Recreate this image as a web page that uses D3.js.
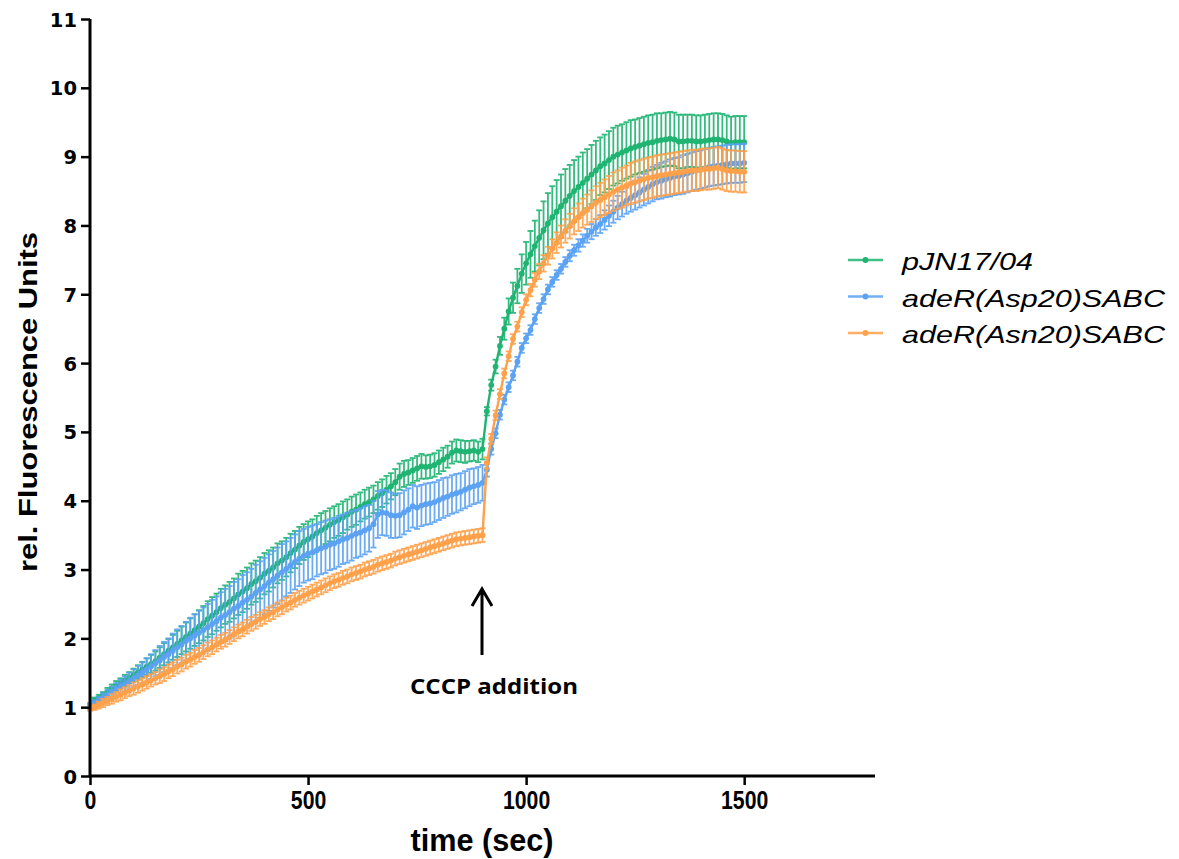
<!DOCTYPE html>
<html>
<head>
<meta charset="utf-8">
<script src="https://cdn.jsdelivr.net/npm/d3@7"></script>
<style>
  html, body { margin: 0; padding: 0; background: #fff; }
  svg { display: block; }
</style>
</head>
<body>
<svg id="chart" width="1179" height="859"></svg>
<script>
// Sampling grid: one reading every 10 s from 0 to 1500 s
const timeSec = d3.range(0, 1501, 10);

const seriesNames = ["pJN17/04", "adeR(Asp20)SABC", "adeR(Asn20)SABC"];

// pJN17/04 – mean and SD
const pjnMean = [
  1.00, 1.10, 1.13, 1.17, 1.22, 1.27, 1.31, 1.35, 1.39, 1.43,
  1.47, 1.51, 1.55, 1.59, 1.63, 1.67, 1.72, 1.77, 1.82, 1.87,
  1.92, 1.97, 2.02, 2.07, 2.12, 2.17, 2.22, 2.28, 2.33, 2.38,
  2.44, 2.49, 2.53, 2.58, 2.64, 2.68, 2.73, 2.79, 2.83, 2.88,
  2.94, 2.98, 3.03, 3.09, 3.13, 3.18, 3.24, 3.29, 3.35, 3.40,
  3.44, 3.48, 3.53, 3.57, 3.61, 3.65, 3.69, 3.72, 3.76, 3.80,
  3.84, 3.87, 3.91, 3.95, 3.98, 4.02, 4.07, 4.11, 4.16, 4.21,
  4.27, 4.35, 4.39, 4.41, 4.44, 4.47, 4.50, 4.49, 4.50, 4.52,
  4.56, 4.60, 4.64, 4.70, 4.73, 4.72, 4.71, 4.72, 4.73, 4.71,
  4.75, 5.30, 5.68, 5.95, 6.25, 6.50, 6.75, 6.95, 7.12, 7.30,
  7.45, 7.58, 7.70, 7.82, 7.93, 8.03, 8.12, 8.20, 8.28, 8.36,
  8.43, 8.50, 8.56, 8.62, 8.68, 8.74, 8.80, 8.86, 8.90, 8.95,
  9.00, 9.03, 9.06, 9.09, 9.12, 9.14, 9.16, 9.18, 9.20, 9.21,
  9.23, 9.24, 9.25, 9.26, 9.25, 9.22, 9.22, 9.23, 9.23, 9.22,
  9.22, 9.23, 9.24, 9.25, 9.25, 9.24, 9.22, 9.20, 9.21, 9.21,
  9.21
];
const pjnSd = [
  0.02, 0.04, 0.05, 0.05, 0.06, 0.06, 0.07, 0.07, 0.08, 0.08,
  0.09, 0.10, 0.11, 0.12, 0.13, 0.14, 0.15, 0.16, 0.17, 0.18,
  0.19, 0.20, 0.21, 0.22, 0.23, 0.24, 0.25, 0.26, 0.27, 0.27,
  0.28, 0.28, 0.29, 0.29, 0.30, 0.30, 0.30, 0.30, 0.30, 0.30,
  0.30, 0.30, 0.29, 0.29, 0.28, 0.28, 0.28, 0.27, 0.27, 0.26,
  0.26, 0.25, 0.25, 0.25, 0.24, 0.24, 0.23, 0.23, 0.23, 0.22,
  0.22, 0.22, 0.21, 0.21, 0.21, 0.20, 0.20, 0.20, 0.20, 0.19,
  0.19, 0.19, 0.19, 0.18, 0.18, 0.18, 0.18, 0.17, 0.17, 0.17,
  0.17, 0.17, 0.16, 0.16, 0.16, 0.16, 0.16, 0.15, 0.15, 0.15,
  0.15, 0.06, 0.08, 0.10, 0.13, 0.16, 0.19, 0.22, 0.25, 0.28,
  0.31, 0.34, 0.37, 0.40, 0.42, 0.44, 0.45, 0.46, 0.46, 0.46,
  0.45, 0.45, 0.44, 0.44, 0.43, 0.43, 0.43, 0.42, 0.42, 0.42,
  0.42, 0.42, 0.41, 0.41, 0.41, 0.40, 0.40, 0.40, 0.40, 0.40,
  0.40, 0.39, 0.39, 0.39, 0.39, 0.39, 0.39, 0.38, 0.38, 0.38,
  0.38, 0.38, 0.38, 0.38, 0.38, 0.38, 0.38, 0.38, 0.38, 0.38,
  0.38
];

// adeR(Asp20)SABC – mean and SD
const aspMean = [
  1.03, 1.06, 1.10, 1.14, 1.18, 1.22, 1.26, 1.30, 1.34, 1.38,
  1.42, 1.46, 1.50, 1.54, 1.59, 1.64, 1.68, 1.73, 1.77, 1.82,
  1.87, 1.91, 1.96, 2.00, 2.04, 2.08, 2.12, 2.16, 2.21, 2.25,
  2.30, 2.34, 2.38, 2.43, 2.47, 2.52, 2.56, 2.61, 2.66, 2.71,
  2.76, 2.81, 2.86, 2.91, 2.96, 3.01, 3.06, 3.11, 3.16, 3.20,
  3.23, 3.25, 3.28, 3.31, 3.33, 3.36, 3.38, 3.41, 3.44, 3.46,
  3.49, 3.52, 3.54, 3.57, 3.60, 3.66, 3.80, 3.83, 3.82, 3.79,
  3.78, 3.79, 3.83, 3.87, 3.92, 3.90, 3.93, 3.95, 3.96, 3.98,
  4.01, 4.04, 4.06, 4.09, 4.11, 4.13, 4.16, 4.19, 4.21, 4.23,
  4.26, 4.45, 4.75, 4.98, 5.25, 5.47, 5.65, 5.82, 6.02, 6.22,
  6.36, 6.48, 6.64, 6.80, 6.93, 7.07, 7.18, 7.28, 7.37, 7.47,
  7.56, 7.64, 7.71, 7.78, 7.85, 7.91, 7.97, 8.02, 8.08, 8.14,
  8.20, 8.26, 8.31, 8.36, 8.40, 8.44, 8.48, 8.52, 8.56, 8.60,
  8.63, 8.65, 8.67, 8.69, 8.71, 8.72, 8.74, 8.76, 8.78, 8.80,
  8.81, 8.83, 8.85, 8.86, 8.87, 8.88, 8.89, 8.90, 8.90, 8.90,
  8.91
];
const aspSd = [
  0.03, 0.04, 0.05, 0.06, 0.07, 0.08, 0.09, 0.10, 0.11, 0.12,
  0.13, 0.14, 0.15, 0.17, 0.18, 0.19, 0.21, 0.22, 0.23, 0.25,
  0.26, 0.27, 0.28, 0.30, 0.31, 0.32, 0.33, 0.34, 0.35, 0.36,
  0.37, 0.38, 0.38, 0.39, 0.39, 0.40, 0.40, 0.40, 0.41, 0.41,
  0.41, 0.41, 0.41, 0.41, 0.41, 0.40, 0.40, 0.40, 0.40, 0.39,
  0.39, 0.39, 0.38, 0.38, 0.38, 0.37, 0.37, 0.37, 0.36, 0.36,
  0.36, 0.35, 0.35, 0.35, 0.34, 0.34, 0.34, 0.33, 0.33, 0.33,
  0.32, 0.32, 0.32, 0.31, 0.31, 0.31, 0.30, 0.30, 0.30, 0.29,
  0.29, 0.29, 0.28, 0.28, 0.28, 0.27, 0.27, 0.27, 0.26, 0.26,
  0.26, 0.10, 0.08, 0.07, 0.07, 0.07, 0.07, 0.07, 0.07, 0.07,
  0.07, 0.07, 0.07, 0.07, 0.07, 0.07, 0.07, 0.07, 0.07, 0.07,
  0.08, 0.08, 0.09, 0.09, 0.10, 0.11, 0.12, 0.13, 0.14, 0.15,
  0.16, 0.17, 0.18, 0.19, 0.20, 0.21, 0.22, 0.23, 0.24, 0.25,
  0.25, 0.26, 0.26, 0.27, 0.27, 0.27, 0.28, 0.28, 0.28, 0.28,
  0.28, 0.28, 0.28, 0.28, 0.28, 0.28, 0.28, 0.28, 0.28, 0.28,
  0.28
];

// adeR(Asn20)SABC – mean and SD
const asnMean = [
  0.98, 1.00, 1.03, 1.06, 1.09, 1.12, 1.15, 1.18, 1.21, 1.24,
  1.27, 1.30, 1.33, 1.36, 1.39, 1.42, 1.45, 1.48, 1.52, 1.55,
  1.59, 1.62, 1.66, 1.69, 1.73, 1.76, 1.80, 1.84, 1.87, 1.91,
  1.95, 1.98, 2.02, 2.06, 2.10, 2.13, 2.17, 2.21, 2.24, 2.28,
  2.31, 2.35, 2.38, 2.42, 2.45, 2.49, 2.52, 2.56, 2.59, 2.62,
  2.65, 2.68, 2.71, 2.74, 2.77, 2.80, 2.83, 2.85, 2.88, 2.90,
  2.93, 2.95, 2.97, 3.00, 3.02, 3.04, 3.07, 3.09, 3.11, 3.13,
  3.16, 3.18, 3.20, 3.22, 3.24, 3.26, 3.28, 3.30, 3.32, 3.34,
  3.36, 3.38, 3.40, 3.42, 3.44, 3.45, 3.46, 3.47, 3.48, 3.49,
  3.50, 4.55, 4.90, 5.24, 5.55, 5.85, 6.10, 6.35, 6.53, 6.74,
  6.92, 7.06, 7.21, 7.33, 7.45, 7.56, 7.66, 7.75, 7.84, 7.92,
  7.99, 8.06, 8.12, 8.18, 8.23, 8.28, 8.33, 8.37, 8.41, 8.45,
  8.49, 8.52, 8.55, 8.58, 8.61, 8.63, 8.65, 8.67, 8.69, 8.70,
  8.72, 8.73, 8.74, 8.75, 8.76, 8.77, 8.78, 8.79, 8.80, 8.80,
  8.81, 8.82, 8.82, 8.83, 8.84, 8.82, 8.80, 8.79, 8.79, 8.78,
  8.78
];
const asnSd = [
  0.03, 0.04, 0.05, 0.06, 0.06, 0.07, 0.07, 0.08, 0.08, 0.08,
  0.09, 0.09, 0.09, 0.09, 0.09, 0.09, 0.10, 0.10, 0.10, 0.10,
  0.10, 0.10, 0.10, 0.10, 0.10, 0.10, 0.10, 0.10, 0.10, 0.10,
  0.10, 0.10, 0.10, 0.10, 0.10, 0.10, 0.10, 0.10, 0.10, 0.10,
  0.10, 0.10, 0.10, 0.10, 0.10, 0.10, 0.10, 0.10, 0.10, 0.10,
  0.10, 0.10, 0.10, 0.10, 0.10, 0.10, 0.10, 0.10, 0.10, 0.10,
  0.10, 0.10, 0.10, 0.10, 0.10, 0.10, 0.10, 0.10, 0.10, 0.10,
  0.10, 0.10, 0.10, 0.10, 0.10, 0.10, 0.10, 0.10, 0.10, 0.10,
  0.10, 0.10, 0.10, 0.10, 0.10, 0.10, 0.10, 0.10, 0.10, 0.10,
  0.10, 0.08, 0.07, 0.07, 0.07, 0.07, 0.07, 0.07, 0.07, 0.07,
  0.08, 0.09, 0.10, 0.11, 0.12, 0.13, 0.14, 0.15, 0.16, 0.17,
  0.18, 0.19, 0.20, 0.21, 0.22, 0.23, 0.24, 0.25, 0.26, 0.27,
  0.28, 0.28, 0.29, 0.29, 0.30, 0.30, 0.30, 0.30, 0.30, 0.30,
  0.30, 0.30, 0.30, 0.30, 0.30, 0.30, 0.30, 0.30, 0.30, 0.30,
  0.30, 0.30, 0.30, 0.30, 0.30, 0.30, 0.30, 0.30, 0.30, 0.30,
  0.30
];

const seriesColors = ["#1fb472", "#5ba2f3", "#ffa04a"];

const xTicks = [0, 500, 1000, 1500];
const yTicks = d3.range(0, 12);

const annotationTime = 900;
const annotationText = "CCCP addition";

// ---- layout ----
const svg = d3.select("#chart");
const x = d3.scaleLinear().domain([0, 1800]).range([90, 875]);
const y = d3.scaleLinear().domain([0, 11]).range([776, 19]);

const series = [
  { name: seriesNames[0], mean: pjnMean, sd: pjnSd, color: seriesColors[0] },
  { name: seriesNames[1], mean: aspMean, sd: aspSd, color: seriesColors[1] },
  { name: seriesNames[2], mean: asnMean, sd: asnSd, color: seriesColors[2] }
];

const plot = svg.append("g");

series.forEach(s => {
  const pts = timeSec.map((t, k) => ({ t, m: s.mean[k], sd: s.sd[k] }));
  const g = plot.append("g");

  const bars = g.selectAll("g.eb").data(pts).join("g")
    .attr("stroke", s.color).attr("stroke-width", 1.8).attr("opacity", 0.9);
  bars.append("line")
    .attr("x1", d => x(d.t)).attr("x2", d => x(d.t))
    .attr("y1", d => y(d.m + d.sd)).attr("y2", d => y(d.m - d.sd));
  bars.append("line")
    .attr("x1", d => x(d.t) - 3).attr("x2", d => x(d.t) + 3)
    .attr("y1", d => y(d.m + d.sd)).attr("y2", d => y(d.m + d.sd));
  bars.append("line")
    .attr("x1", d => x(d.t) - 3).attr("x2", d => x(d.t) + 3)
    .attr("y1", d => y(d.m - d.sd)).attr("y2", d => y(d.m - d.sd));

  g.append("path")
    .datum(pts)
    .attr("fill", "none")
    .attr("stroke", s.color)
    .attr("stroke-width", 2.4)
    .attr("d", d3.line().x(d => x(d.t)).y(d => y(d.m)));

  g.selectAll("circle").data(pts).join("circle")
    .attr("cx", d => x(d.t)).attr("cy", d => y(d.m))
    .attr("r", 2.9).attr("fill", s.color);
});

// ---- axes ----
const yAxis = svg.append("g")
  .attr("transform", `translate(${x(0)},0)`)
  .call(d3.axisLeft(y).tickValues(yTicks).tickSize(9).tickPadding(4).tickFormat(d3.format("d")));
yAxis.select(".domain").attr("stroke", "#000").attr("stroke-width", 3)
  .attr("d", `M0,${y(11)}V${y(0)}`);
yAxis.selectAll(".tick line").attr("stroke", "#000").attr("stroke-width", 2.5);
yAxis.selectAll(".tick text")
  .attr("font-family", "DejaVu Sans").attr("font-weight", "bold")
  .attr("font-size", 19.5).attr("fill", "#000").attr("dy", "0.36em");

const xAxis = svg.append("g")
  .attr("transform", `translate(0,${y(0)})`)
  .call(d3.axisBottom(x).tickValues(xTicks).tickSize(9).tickPadding(6).tickFormat(d3.format("d")));
xAxis.select(".domain").attr("stroke", "#000").attr("stroke-width", 3)
  .attr("d", `M${x(0)},0H${x(1800)}`);
xAxis.selectAll(".tick line").attr("stroke", "#000").attr("stroke-width", 2.5);
xAxis.selectAll(".tick text")
  .attr("font-family", "Liberation Sans").attr("font-weight", "bold")
  .attr("font-size", 25).attr("fill", "#000").attr("dy", "0.72em")
  .attr("textLength", d => String(d).length * 11.8)
  .attr("lengthAdjust", "spacingAndGlyphs");

// axis titles
svg.append("text")
  .attr("x", 482).attr("y", 851)
  .attr("text-anchor", "middle")
  .attr("font-family", "Liberation Sans").attr("font-weight", "bold")
  .attr("font-size", 31)
  .attr("textLength", 143).attr("lengthAdjust", "spacingAndGlyphs")
  .text("time (sec)");

svg.append("text")
  .attr("transform", "translate(37,402) rotate(-90)")
  .attr("text-anchor", "middle")
  .attr("font-family", "Liberation Sans").attr("font-weight", "bold")
  .attr("font-size", 26)
  .attr("textLength", 340).attr("lengthAdjust", "spacingAndGlyphs")
  .text("rel. Fluorescence Units");

// ---- CCCP annotation ----
const ax = x(annotationTime) - 0.5;
svg.append("path")
  .attr("d", `M${ax},${655}V${589}M${ax - 10},${606}L${ax},${589}L${ax + 10},${606}`)
  .attr("fill", "none").attr("stroke", "#000").attr("stroke-width", 3)
  .attr("stroke-linejoin", "miter");
svg.append("text")
  .attr("x", 494).attr("y", 694)
  .attr("text-anchor", "middle")
  .attr("font-family", "Open Sans").attr("font-weight", "bold")
  .attr("font-size", 22)
  .attr("textLength", 168).attr("lengthAdjust", "spacingAndGlyphs")
  .text(annotationText);

// ---- legend ----
const legendLens = [131, 263, 263];
const legend = svg.append("g");
series.forEach((s, i) => {
  const ly = 260 + i * 36.5;
  legend.append("line")
    .attr("x1", 848).attr("x2", 883).attr("y1", ly).attr("y2", ly)
    .attr("stroke", s.color).attr("stroke-width", 2.4).attr("opacity", 0.85);
  legend.append("circle").attr("cx", 865.5).attr("cy", ly).attr("r", 2.9).attr("fill", s.color);
  legend.append("text")
    .attr("x", 902).attr("y", ly + 10)
    .attr("font-family", "Liberation Sans").attr("font-style", "italic")
    .attr("font-size", 24)
    .attr("textLength", legendLens[i]).attr("lengthAdjust", "spacingAndGlyphs")
    .text(s.name);
});
</script>
</body>
</html>
